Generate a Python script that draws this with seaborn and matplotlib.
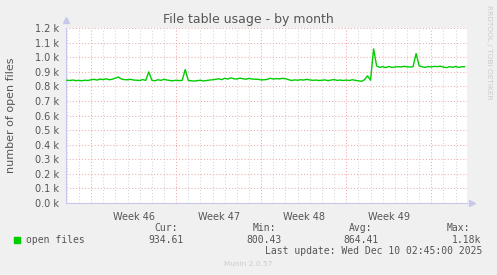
import numpy as np
import pandas as pd
import matplotlib
matplotlib.use("Agg")
import matplotlib.pyplot as plt
import matplotlib.transforms as mtransforms
import seaborn as sns

# ---- data (6-hourly samples starting 2025-11-08 00:00) ----
start_time = "2025-11-08 00:00"
open_files = [
    842, 840, 843, 839,  841, 838, 842, 840,  845, 848, 843, 850,
    846, 852, 845, 849,  856, 864, 850, 846,  845, 848, 843, 842,
    840, 846, 841, 899,  842, 838, 845, 841,  848, 843, 840, 838,
    842, 839, 841, 915,  840, 838, 836, 839,  842, 837, 840, 843,
    845, 848, 852, 846,  855, 850, 858, 852,  850, 856, 852, 849,
    854, 850, 849, 848,  844, 845, 848, 855,  850, 853, 851, 855,
    852, 846, 840, 844,  842, 845, 843, 848,  844, 841, 843, 840,
    842, 844, 839, 843,  846, 841, 843, 840,  843, 840, 845, 841,
    838, 834, 845, 872,  842, 1057, 940, 930,  935, 928, 936, 930,
    932, 935, 933, 937,  934, 932, 935, 1025,  940, 934, 930, 936,
    933, 937, 935, 938,  932, 928, 935, 931,  936, 930, 934, 935,
]
y_ticks = [0, 100, 200, 300, 400, 500, 600, 700, 800, 900, 1000, 1100, 1200]
x_start = "2025-11-07 22:30"
x_end = "2025-12-10 22:30"
title = "File table usage - by month"
ylabel = "number of open files"
legend_label = "open files"
stat_names = ["Cur:", "Min:", "Avg:", "Max:"]
stat_values = ["934.61", "800.43", "864.41", "1.18k"]
last_update = "Last update: Wed Dec 10 02:45:00 2025"
side_text = "RRDTOOL / TOBI OETIKER"
footer = "Munin 2.0.57"

times = pd.Timestamp(start_time) + pd.to_timedelta(np.arange(len(open_files)) * 6, unit="h")
df = pd.DataFrame({"time": times, "value": open_files})

sns.set_style("white")
plt.rcParams["font.family"] = ["DejaVu Sans"]

W, H = 497, 275
fig = plt.figure(figsize=(W / 100, H / 100), dpi=100, facecolor="#F0F0F0")
L, R, T, B = 66, 467, 28, 203
ax = fig.add_axes([L / W, 1 - B / H, (R - L) / W, (B - T) / H])
ax.set_facecolor("white")

x0, x1 = pd.Timestamp(x_start), pd.Timestamp(x_end)
ax.set_xlim(x0, x1)
ax.set_ylim(0, 1200)

txt = "#555555"
minor_c = "#d4d4d4"
major_c = "#f2a8a8"
dots = (0, (1, 2))

# grid
days = pd.date_range(x0.ceil("D"), x1, freq="D")
mondays = [d for d in days if d.weekday() == 0]
for d in days:
    if d.weekday() != 0:
        ax.axvline(d, color=minor_c, lw=0.75, ls=dots, zorder=1)
for d in mondays:
    ax.axvline(d, color=major_c, lw=0.75, ls=dots, zorder=1)
for yv in y_ticks[1:]:
    ax.axhline(yv, color=major_c, lw=0.75, ls=dots, zorder=1)

sns.lineplot(data=df, x="time", y="value", ax=ax, color="#00CC00", lw=1.0, zorder=3, legend=False)

# axes styling
for s in ["top", "right"]:
    ax.spines[s].set_visible(False)
for s in ["left", "bottom"]:
    ax.spines[s].set_color("#c8c8ee")
    ax.spines[s].set_linewidth(0.8)
ax.set_xlabel("")
ax.set_ylabel("")
ax.set_yticks(y_ticks)
ax.set_yticklabels([f"{v/1000:.1f} k" for v in y_ticks], fontsize=7, color=txt)
ax.tick_params(axis="y", length=2, width=0.6, color="#bbbbbb", pad=3)
ax.set_xticks(mondays)
ax.set_xticklabels([])
ax.set_xticks([d for d in days if d.weekday() != 0], minor=True)
ax.tick_params(axis="x", which="major", length=3, width=0.7, color="#f08080")
ax.tick_params(axis="x", which="minor", length=2, width=0.6, color="#bbbbbb")

# week labels centred in each week
trans = mtransforms.blended_transform_factory(ax.transData, ax.transAxes)
for m in mondays:
    mid = m + pd.Timedelta(hours=84)
    if mid < x1:
        wk = m.isocalendar()[1]
        ax.text(mid, -0.05, f"Week {wk}", transform=trans, ha="center", va="top", fontsize=7, color=txt)

# arrows
ax.plot([0], [1.0 + 8 / (B - T)], marker="^", ms=5, color="#c8c8ee", transform=ax.transAxes, clip_on=False)
ax.plot([1.0 + 5 / (R - L)], [0], marker=">", ms=5, color="#c8c8ee", transform=ax.transAxes, clip_on=False)

# title, y label, side text
fig.text(248 / W, 1 - 19 / H, title, ha="center", va="center", fontsize=9, color=txt)
fig.text(11 / W, 1 - 115 / H, ylabel, ha="center", va="center", rotation=90, fontsize=8, color=txt)
fig.text(489 / W, 1 - 5 / H, side_text, ha="center", va="top", rotation=270, fontsize=5.3, color="#cccccc")

# legend block
mono = "DejaVu Sans Mono"
fig.patches.append(plt.Rectangle((14 / W, 1 - 243 / H), 6 / W, 6 / H, transform=fig.transFigure,
                                 color="#00CC00", figure=fig))
fig.text(26 / W, 1 - 240 / H, legend_label, ha="left", va="center", fontsize=7, color=txt, family=mono)
name_x = [166, 264, 361, 458]
val_x = [166, 264, 361, 467]
for nm, vv, nx, vx in zip(stat_names, stat_values, name_x, val_x):
    fig.text(nx / W, 1 - 228 / H, nm, ha="center", va="center", fontsize=7, color=txt, family=mono)
    fig.text(vx / W, 1 - 240 / H, vv, ha="center", va="center", fontsize=7, color=txt, family=mono)
fig.text(482 / W, 1 - 251 / H, last_update, ha="right", va="center", fontsize=7, color=txt, family=mono)
fig.text(248 / W, 1 - 264 / H, footer, ha="center", va="center", fontsize=5.3, color="#cccccc")

fig.savefig("out.png", dpi=100, facecolor=fig.get_facecolor())
